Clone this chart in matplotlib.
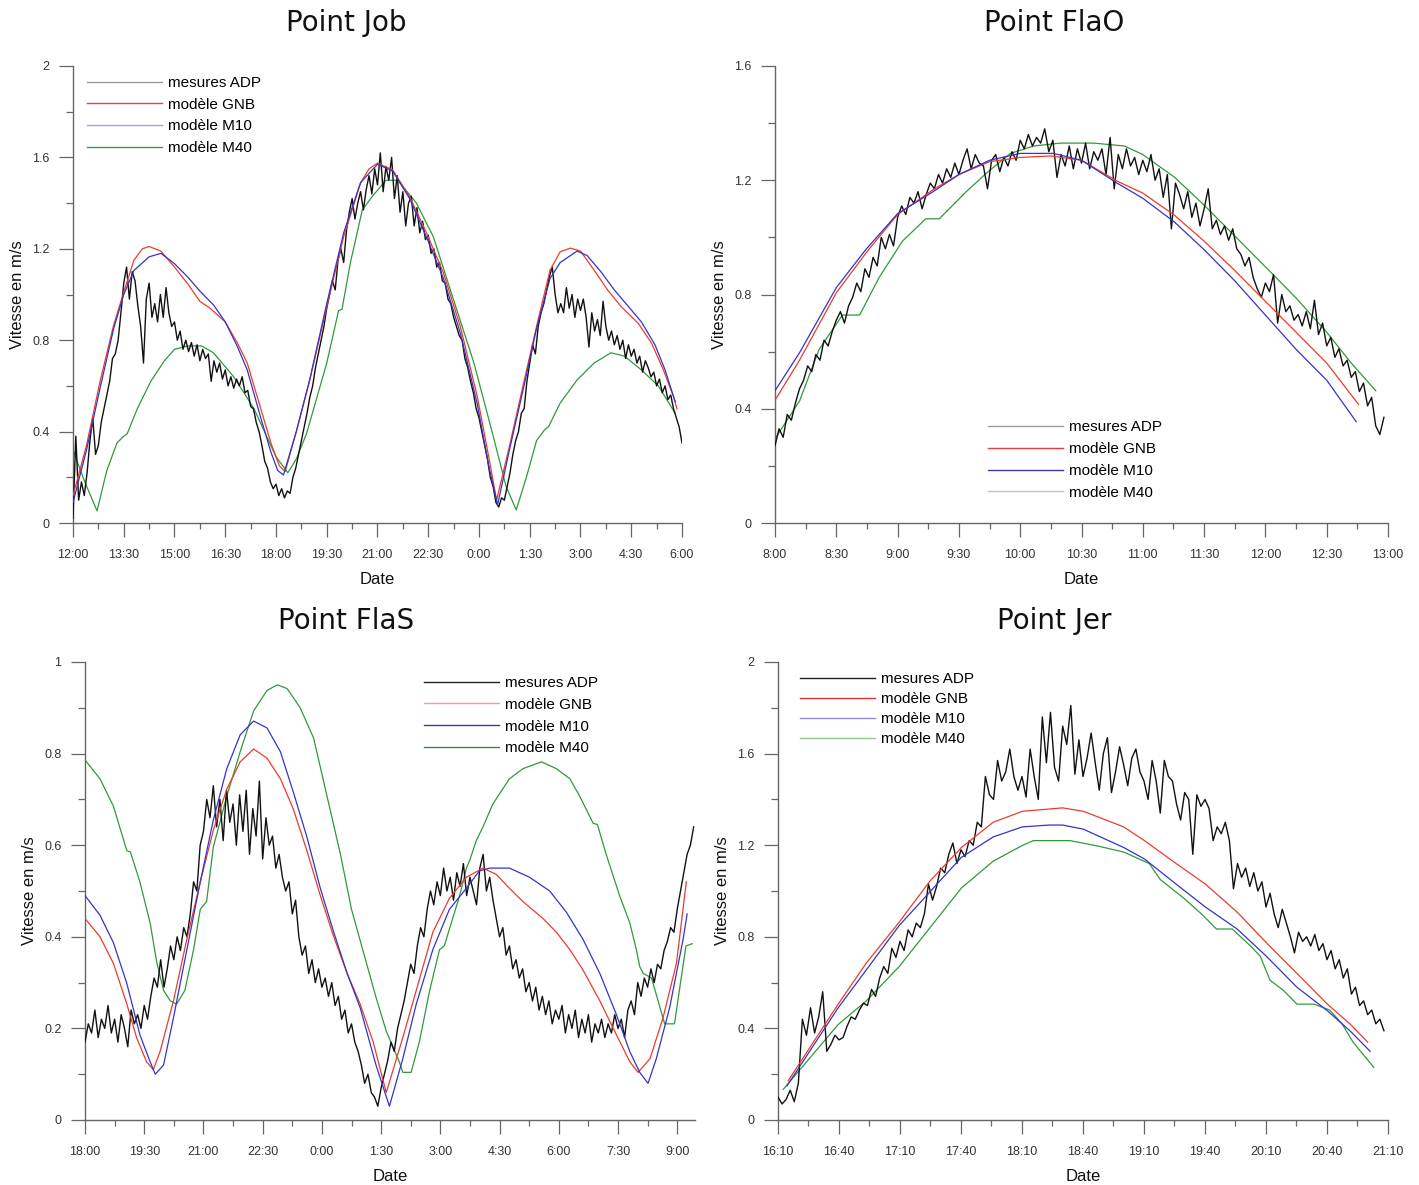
import numpy as np
import matplotlib
matplotlib.use("Agg")
import matplotlib.pyplot as plt
from matplotlib.ticker import FixedLocator, FuncFormatter
from matplotlib.lines import Line2D

plt.rcParams['font.family'] = ['Liberation Sans', 'DejaVu Sans']

LABELS = ['mesures ADP', 'modèle GNB', 'modèle M10', 'modèle M40']

# ---------------- Point Job (hours, 12:00 -> 6:00 next day) ----------------
job_adp_start, job_adp_step = 12.0, 5 / 60
job_adp = [
    0.02, 0.38, 0.10, 0.18, 0.12, 0.22, 0.36, 0.46, 0.30, 0.34, 0.44, 0.50,
    0.56, 0.62, 0.72, 0.74, 0.80, 0.92, 1.05, 1.12, 0.98, 1.10, 1.06, 0.95,
    0.86, 0.70, 0.98, 1.05, 0.90, 0.96, 0.88, 1.00, 0.90, 1.03, 0.92, 0.86,
    0.88, 0.80, 0.84, 0.76, 0.80, 0.75, 0.79, 0.73, 0.78, 0.71, 0.76, 0.72,
    0.74, 0.62, 0.71, 0.66, 0.70, 0.63, 0.67, 0.60, 0.64, 0.59, 0.63, 0.60,
    0.64, 0.57, 0.58, 0.51, 0.50, 0.44, 0.40, 0.34, 0.27, 0.24, 0.18, 0.15,
    0.17, 0.12, 0.15, 0.11, 0.14, 0.13, 0.20, 0.24, 0.30, 0.36, 0.42, 0.48,
    0.55, 0.60, 0.68, 0.74, 0.80, 0.86, 0.94, 1.00, 1.06, 1.02, 1.15, 1.20,
    1.14, 1.28, 1.36, 1.42, 1.33, 1.40, 1.45, 1.37, 1.46, 1.52, 1.44, 1.55,
    1.48, 1.62, 1.45, 1.56, 1.50, 1.60, 1.42, 1.52, 1.36, 1.45, 1.30, 1.40,
    1.43, 1.30, 1.38, 1.27, 1.32, 1.24, 1.26, 1.18, 1.20, 1.12, 1.14, 1.06,
    1.05, 0.98, 0.96, 0.90, 0.86, 0.82, 0.80, 0.72, 0.68, 0.62, 0.57, 0.50,
    0.46, 0.40, 0.34, 0.28, 0.20, 0.16, 0.09, 0.07, 0.11, 0.10, 0.16, 0.22,
    0.30, 0.36, 0.40, 0.48, 0.50, 0.62, 0.70, 0.78, 0.74, 0.86, 0.92, 0.96,
    1.02, 1.08, 1.12, 1.00, 0.92, 0.96, 0.92, 1.03, 0.94, 1.00, 0.90, 0.98,
    0.93, 0.98, 0.90, 0.77, 0.92, 0.84, 0.89, 0.82, 0.97, 0.86, 0.80, 0.84,
    0.78, 0.82, 0.76, 0.80, 0.72, 0.78, 0.73, 0.76, 0.70, 0.73, 0.66, 0.71,
    0.68, 0.64, 0.66, 0.60, 0.63, 0.57, 0.60, 0.54, 0.56, 0.50, 0.46, 0.42,
    0.35,
]
job_gnb_t = [12.0, 12.4, 12.8, 13.2, 13.5, 13.8, 14.05, 14.25, 14.6, 15.0,
             15.4, 15.75, 16.05, 16.5, 16.85, 17.15, 17.55, 17.85, 18.1, 18.27,
             18.6, 19.0, 19.5, 20.0, 20.5, 20.75, 21.0, 21.45, 21.95, 22.45,
             22.95, 23.45, 23.95, 24.3, 24.52, 24.9, 25.3, 25.7, 26.1, 26.4,
             26.7, 27.0, 27.4, 27.8, 28.2, 28.7, 29.1, 29.45, 29.75, 29.85]
job_gnb = [0.12, 0.34, 0.62, 0.865, 1.01, 1.15, 1.20, 1.21, 1.19, 1.12,
           1.045, 0.97, 0.94, 0.88, 0.79, 0.70, 0.50, 0.35, 0.25, 0.225,
           0.40, 0.626, 0.947, 1.253, 1.488, 1.55, 1.575, 1.545, 1.428, 1.269,
           1.094, 0.859, 0.553, 0.28, 0.10, 0.336, 0.60, 0.86, 1.107, 1.187,
           1.203, 1.19, 1.107, 1.02, 0.947, 0.875, 0.787, 0.67, 0.553, 0.50]
job_m10_t = [12.0, 12.4, 12.8, 13.2, 13.5, 13.8, 14.25, 14.6, 15.0, 15.4,
             15.75, 16.15, 16.5, 16.85, 17.15, 17.55, 17.85, 18.05, 18.22, 18.6,
             19.0, 19.5, 20.0, 20.5, 21.0, 21.45, 21.95, 22.45, 22.95, 23.45,
             23.95, 24.3, 24.55, 24.9, 25.3, 25.7, 26.1, 26.4, 26.9, 27.2,
             27.6, 28.0, 28.4, 28.8, 29.2, 29.5, 29.8]
job_m10 = [0.09, 0.32, 0.59, 0.85, 1.00, 1.105, 1.165, 1.18, 1.135, 1.075,
           1.015, 0.955, 0.88, 0.775, 0.67, 0.46, 0.31, 0.23, 0.21, 0.40,
           0.63, 0.96, 1.27, 1.49, 1.57, 1.54, 1.42, 1.25, 1.07, 0.83,
           0.52, 0.24, 0.08, 0.32, 0.58, 0.85, 1.07, 1.14, 1.19, 1.17,
           1.10, 1.02, 0.95, 0.88, 0.78, 0.67, 0.53]
job_m40_t = [12.0, 12.32, 12.71, 13.0, 13.3, 13.5, 13.6, 13.9, 14.3, 14.7,
             15.0, 15.4, 15.8, 16.15, 16.75, 17.35, 18.0, 18.35, 18.6, 18.9,
             19.5, 19.85, 19.95, 20.2, 20.55, 20.85, 21.25, 21.6, 22.15, 22.65,
             23.25, 23.85, 24.35, 24.8, 25.1, 25.4, 25.7, 25.95, 26.05, 26.4,
             26.9, 27.4, 27.9, 28.3, 28.8, 29.3, 29.8]
job_m40 = [0.32, 0.19, 0.053, 0.23, 0.35, 0.38, 0.39, 0.50, 0.62, 0.71,
           0.76, 0.775, 0.775, 0.745, 0.64, 0.50, 0.29, 0.22, 0.28, 0.39,
           0.70, 0.93, 0.935, 1.14, 1.37, 1.43, 1.50, 1.50, 1.40, 1.253,
           0.976, 0.70, 0.42, 0.16, 0.057, 0.20, 0.36, 0.41, 0.42, 0.525,
           0.626, 0.70, 0.745, 0.73, 0.67, 0.60, 0.48]

# ---------------- Point FlaO (8:00 -> 13:00) ----------------
flao_adp_start, flao_adp_step = 8.0, 2 / 60
flao_adp = [
    0.27, 0.33, 0.30, 0.38, 0.36, 0.42, 0.47, 0.50, 0.55, 0.53, 0.59, 0.57, 0.64, 0.62, 0.67,
    0.71, 0.74, 0.70, 0.76, 0.79, 0.84, 0.81, 0.89, 0.86, 0.93, 0.90, 1.00, 0.96, 1.01, 0.97,
    1.07, 1.11, 1.08, 1.14, 1.12, 1.16, 1.10, 1.15, 1.19, 1.17, 1.22, 1.19, 1.24, 1.21, 1.26,
    1.22, 1.27, 1.31, 1.24, 1.29, 1.26, 1.25, 1.17, 1.27, 1.29, 1.23, 1.28, 1.25, 1.30, 1.27,
    1.34, 1.31, 1.36, 1.32, 1.35, 1.33, 1.38, 1.30, 1.34, 1.21, 1.29, 1.25, 1.32, 1.24, 1.31,
    1.26, 1.33, 1.24, 1.30, 1.27, 1.31, 1.22, 1.35, 1.17, 1.29, 1.24, 1.31, 1.25, 1.28, 1.22,
    1.27, 1.23, 1.29, 1.20, 1.24, 1.14, 1.22, 1.03, 1.19, 1.15, 1.10, 1.16, 1.07, 1.12, 1.04,
    1.10, 1.17, 1.03, 1.06, 1.01, 1.04, 0.99, 1.03, 0.96, 0.94, 0.90, 0.93, 0.86, 0.82, 0.79,
    0.84, 0.81, 0.87, 0.70, 0.80, 0.74, 0.76, 0.71, 0.73, 0.69, 0.74, 0.68, 0.78, 0.66, 0.70,
    0.62, 0.65, 0.58, 0.61, 0.55, 0.57, 0.51, 0.53, 0.46, 0.49, 0.41, 0.44, 0.34, 0.31, 0.37,
]
flao_gnb_t = [8.0, 8.2, 8.5, 8.75, 9.0, 9.3, 9.5, 9.75, 10.0, 10.25,
              10.5, 10.79, 11.0, 11.26, 11.5, 11.75, 12.0, 12.25, 12.5, 12.76]
flao_gnb = [0.43, 0.57, 0.806, 0.95, 1.08, 1.17, 1.22, 1.265, 1.28, 1.285,
            1.27, 1.197, 1.155, 1.077, 0.987, 0.884, 0.776, 0.668, 0.56, 0.415]
flao_m10_t = [8.0, 8.2, 8.5, 8.74, 9.0, 9.29, 9.5, 9.75, 10.0, 10.27,
              10.5, 10.79, 11.0, 11.26, 11.5, 11.75, 12.0, 12.25, 12.5, 12.74]
flao_m10 = [0.463, 0.596, 0.824, 0.957, 1.083, 1.16, 1.22, 1.27, 1.294, 1.294,
            1.27, 1.19, 1.137, 1.053, 0.957, 0.848, 0.728, 0.608, 0.50, 0.355]
flao_m40_t = [8.0, 8.2, 8.36, 8.55, 8.69, 8.85, 9.04, 9.23, 9.34, 9.56,
              9.73, 9.92, 10.11, 10.33, 10.6, 10.85, 11.0, 11.26, 11.5, 11.75,
              12.0, 12.25, 12.5, 12.7, 12.9]
flao_m40 = [0.295, 0.427, 0.608, 0.728, 0.728, 0.86, 0.987, 1.065, 1.065, 1.16,
            1.227, 1.294, 1.32, 1.33, 1.33, 1.32, 1.29, 1.21, 1.113, 1.005,
            0.897, 0.788, 0.668, 0.56, 0.463]

# ---------------- Point FlaS (18:00 -> 9:25 next day) ----------------
flas_adp_start, flas_adp_step = 18.0, 5 / 60
flas_adp = [
    0.17, 0.21, 0.19, 0.24, 0.18, 0.22, 0.20, 0.25, 0.19, 0.22, 0.17, 0.23,
    0.20, 0.16, 0.24, 0.21, 0.23, 0.20, 0.25, 0.22, 0.27, 0.31, 0.29, 0.35,
    0.29, 0.33, 0.38, 0.35, 0.40, 0.37, 0.42, 0.40, 0.45, 0.52, 0.50, 0.60,
    0.63, 0.70, 0.66, 0.73, 0.64, 0.70, 0.61, 0.72, 0.65, 0.69, 0.60, 0.71,
    0.63, 0.72, 0.58, 0.68, 0.62, 0.74, 0.57, 0.66, 0.60, 0.62, 0.55, 0.58,
    0.53, 0.50, 0.52, 0.45, 0.48, 0.40, 0.36, 0.38, 0.32, 0.35, 0.30, 0.33,
    0.29, 0.31, 0.27, 0.30, 0.25, 0.27, 0.22, 0.24, 0.19, 0.21, 0.17, 0.15,
    0.12, 0.08, 0.10, 0.06, 0.05, 0.03, 0.07, 0.10, 0.13, 0.17, 0.15, 0.20,
    0.23, 0.26, 0.30, 0.34, 0.32, 0.38, 0.42, 0.40, 0.46, 0.50, 0.47, 0.52,
    0.49, 0.55, 0.50, 0.53, 0.48, 0.54, 0.51, 0.56, 0.49, 0.53, 0.50, 0.47,
    0.55, 0.58, 0.50, 0.53, 0.48, 0.44, 0.40, 0.42, 0.36, 0.38, 0.33, 0.35,
    0.31, 0.33, 0.28, 0.30, 0.26, 0.29, 0.24, 0.27, 0.23, 0.26, 0.21, 0.24,
    0.22, 0.25, 0.19, 0.23, 0.20, 0.24, 0.18, 0.22, 0.19, 0.23, 0.17, 0.21,
    0.19, 0.22, 0.18, 0.21, 0.19, 0.23, 0.20, 0.22, 0.18, 0.24, 0.26, 0.23,
    0.30, 0.27, 0.31, 0.29, 0.33, 0.30, 0.34, 0.33, 0.37, 0.39, 0.42, 0.41,
    0.46, 0.50, 0.54, 0.58, 0.60, 0.64,
]
flas_gnb_t = [18.0, 18.38, 18.72, 19.06, 19.31, 19.56, 19.73, 19.9, 20.24, 20.58,
              20.92, 21.25, 21.59, 21.93, 22.27, 22.61, 22.95, 23.28, 23.62, 23.96,
              24.3, 24.64, 24.97, 25.3, 25.63, 26.05, 26.39, 26.81, 27.23, 27.66,
              28.08, 28.42, 28.75, 29.09, 29.6, 29.94, 30.28, 30.61, 31.04, 31.46,
              31.8, 32.01, 32.31, 32.64, 32.98, 33.23]
flas_gnb = [0.44, 0.40, 0.342, 0.253, 0.179, 0.127, 0.11, 0.149, 0.26, 0.395,
            0.52, 0.633, 0.722, 0.782, 0.81, 0.79, 0.745, 0.678, 0.588, 0.49,
            0.40, 0.32, 0.253, 0.17, 0.06, 0.18, 0.283, 0.41, 0.484, 0.53,
            0.55, 0.536, 0.506, 0.477, 0.44, 0.41, 0.372, 0.328, 0.26, 0.186,
            0.127, 0.104, 0.134, 0.223, 0.342, 0.52]
flas_m10_t = [18.0, 18.38, 18.72, 19.06, 19.39, 19.65, 19.78, 19.99, 20.24, 20.58,
              20.92, 21.25, 21.59, 21.93, 22.27, 22.61, 22.95, 23.28, 23.62, 23.96,
              24.3, 24.64, 24.97, 25.37, 25.71, 26.05, 26.39, 26.81, 27.23, 27.66,
              27.99, 28.25, 28.75, 29.26, 29.77, 30.19, 30.61, 31.04, 31.46, 31.8,
              32.05, 32.26, 32.47, 32.81, 33.15, 33.25]
flas_m10 = [0.49, 0.447, 0.387, 0.298, 0.186, 0.127, 0.10, 0.12, 0.223, 0.372,
            0.52, 0.655, 0.767, 0.841, 0.871, 0.856, 0.804, 0.715, 0.618, 0.506,
            0.41, 0.32, 0.245, 0.12, 0.03, 0.134, 0.253, 0.372, 0.46, 0.506,
            0.544, 0.55, 0.55, 0.53, 0.50, 0.454, 0.395, 0.32, 0.23, 0.149,
            0.104, 0.08, 0.134, 0.246, 0.395, 0.45]
flas_m40_t = [18.0, 18.38, 18.72, 19.06, 19.15, 19.39, 19.65, 19.82, 19.99, 20.16,
              20.32, 20.53, 20.75, 20.92, 21.08, 21.25, 21.59, 21.93, 22.27, 22.61,
              22.87, 23.12, 23.45, 23.79, 24.13, 24.47, 24.75, 25.25, 25.37, 25.63,
              25.96, 26.05, 26.26, 26.47, 26.73, 26.98, 27.1, 27.23, 27.49, 27.66,
              27.74, 27.91, 28.08, 28.33, 28.75, 29.09, 29.56, 29.94, 30.28, 30.53,
              30.87, 30.98, 31.2, 31.54, 31.8, 31.97, 32.05, 32.14, 32.35, 32.68,
              32.93, 33.22, 33.38]
flas_m40 = [0.786, 0.745, 0.685, 0.588, 0.585, 0.52, 0.43, 0.343, 0.283, 0.26,
            0.253, 0.283, 0.372, 0.46, 0.477, 0.596, 0.707, 0.804, 0.893, 0.938,
            0.95, 0.942, 0.90, 0.834, 0.707, 0.58, 0.46, 0.305, 0.268, 0.194,
            0.127, 0.104, 0.104, 0.171, 0.283, 0.372, 0.38, 0.417, 0.49, 0.55,
            0.566, 0.61, 0.64, 0.69, 0.745, 0.767, 0.782, 0.767, 0.745, 0.707,
            0.648, 0.645, 0.58, 0.49, 0.43, 0.37, 0.335, 0.32, 0.31, 0.21,
            0.21, 0.38, 0.385]

# ---------------- Point Jer (16:10 -> 21:10) ----------------
jer_adp_start, jer_adp_step = 16 + 10 / 60, 2 / 60
jer_adp = [
    0.10, 0.07, 0.09, 0.13, 0.08, 0.16, 0.44, 0.37, 0.49, 0.38, 0.45, 0.56, 0.30, 0.33, 0.37,
    0.35, 0.36, 0.41, 0.45, 0.44, 0.48, 0.51, 0.50, 0.57, 0.54, 0.62, 0.67, 0.64, 0.75, 0.71,
    0.78, 0.74, 0.83, 0.80, 0.86, 0.84, 0.90, 1.03, 0.96, 1.02, 1.10, 1.08, 1.16, 1.21, 1.12,
    1.18, 1.15, 1.22, 1.20, 1.30, 1.28, 1.50, 1.42, 1.40, 1.57, 1.48, 1.52, 1.62, 1.50, 1.44,
    1.50, 1.41, 1.62, 1.50, 1.40, 1.76, 1.56, 1.78, 1.54, 1.48, 1.72, 1.64, 1.81, 1.51, 1.66,
    1.50, 1.58, 1.69, 1.56, 1.44, 1.60, 1.67, 1.43, 1.52, 1.63, 1.55, 1.46, 1.58, 1.62, 1.52,
    1.48, 1.40, 1.57, 1.48, 1.34, 1.57, 1.50, 1.48, 1.38, 1.31, 1.43, 1.40, 1.16, 1.42, 1.37,
    1.40, 1.36, 1.22, 1.28, 1.25, 1.30, 1.22, 1.01, 1.12, 1.06, 1.10, 1.02, 1.08, 1.00, 1.04,
    0.93, 0.99, 0.90, 0.84, 0.92, 0.86, 0.80, 0.73, 0.82, 0.78, 0.80, 0.76, 0.81, 0.74, 0.77,
    0.70, 0.74, 0.66, 0.70, 0.62, 0.66, 0.55, 0.58, 0.50, 0.52, 0.46, 0.48, 0.42, 0.44, 0.39,
]
jer_gnb_t = [16.25, 16.35, 16.66, 16.89, 17.16, 17.41, 17.67, 17.93, 18.17, 18.5,
             18.67, 19.0, 19.17, 19.43, 19.67, 19.93, 20.17, 20.42, 20.67, 20.86, 21.0]
jer_gnb = [0.171, 0.253, 0.506, 0.685, 0.864, 1.042, 1.19, 1.30, 1.348, 1.363,
           1.348, 1.28, 1.22, 1.12, 1.03, 0.908, 0.774, 0.64, 0.506, 0.417, 0.34]
jer_m10_t = [16.24, 16.66, 17.16, 17.67, 17.93, 18.17, 18.39, 18.5, 18.67, 19.0,
             19.17, 19.43, 19.67, 19.93, 20.17, 20.42, 20.67, 20.86, 21.02]
jer_m10 = [0.149, 0.49, 0.849, 1.147, 1.236, 1.28, 1.288, 1.288, 1.27, 1.19,
           1.14, 1.03, 0.93, 0.834, 0.715, 0.58, 0.477, 0.387, 0.30]
jer_m40_t = [16.21, 16.66, 16.89, 17.16, 17.67, 17.93, 18.17, 18.26, 18.56, 18.8,
             19.0, 19.21, 19.3, 19.49, 19.65, 19.76, 19.89, 20.04, 20.12, 20.2,
             20.31, 20.42, 20.56, 20.69, 20.79, 20.88, 21.05]
jer_m40 = [0.134, 0.417, 0.52, 0.67, 1.013, 1.13, 1.199, 1.22, 1.22, 1.195,
           1.17, 1.12, 1.05, 0.97, 0.894, 0.834, 0.834, 0.76, 0.715, 0.61,
           0.566, 0.506, 0.506, 0.48, 0.42, 0.34, 0.23]

BLACK = '#111111'
RED = '#ec3b2c'
BLUE = '#3434c8'
GREEN = '#2f9a3c'
AXIS = '#666666'


def hhmm(x, pos):
    m = int(round(x * 60)) % (24 * 60)
    return f"{m // 60}:{m % 60:02d}"


def num(y, pos):
    return f"{round(y, 2):g}"


def draw(ax, adp_start, adp_step, adp, gnb_t, gnb, m10_t, m10, m40_t, m40,
         xlim, xstep, ymax, ystep, leg_px, leg_colors, leg_space):
    t = adp_start + adp_step * np.arange(len(adp))
    ax.plot(m40_t, m40, color=GREEN, lw=0.9, zorder=2)
    ax.plot(t, adp, color=BLACK, lw=1.0, zorder=3)
    ax.plot(gnb_t, gnb, color=RED, lw=0.9, zorder=4)
    ax.plot(m10_t, m10, color=BLUE, lw=0.9, zorder=4)

    ax.set_xlim(*xlim)
    ax.set_ylim(0, ymax)
    ax.xaxis.set_major_locator(FixedLocator(np.arange(xlim[0], xlim[1] + 1e-6, xstep)))
    ax.xaxis.set_minor_locator(FixedLocator(np.arange(xlim[0], xlim[1] + 1e-6, xstep / 2)))
    ax.yaxis.set_major_locator(FixedLocator(np.arange(0, ymax + 1e-6, ystep)))
    ax.yaxis.set_minor_locator(FixedLocator(np.arange(0, ymax + 1e-6, ystep / 2)))
    ax.xaxis.set_major_formatter(FuncFormatter(hhmm))
    ax.yaxis.set_major_formatter(FuncFormatter(num))

    for s in ['top', 'right']:
        ax.spines[s].set_visible(False)
    for s in ['left', 'bottom']:
        ax.spines[s].set_color(AXIS)
        ax.spines[s].set_linewidth(1.0)
    ax.tick_params(which='both', direction='out', color=AXIS, width=0.9,
                   labelsize=9, labelcolor='#333333')
    ax.tick_params(which='major', length=10)
    ax.tick_params(axis='y', which='minor', length=5)
    ax.tick_params(axis='x', which='minor', length=4)
    ax.tick_params(axis='x', pad=8.5)
    ax.tick_params(axis='y', pad=7)

    ax.set_xlabel('Date', fontsize=12, labelpad=8, color='#111111')
    ax.set_ylabel('Vitesse en m/s', fontsize=12, labelpad=5, color='#111111')

    handles = [Line2D([], [], color=c, lw=1.0) for c in leg_colors]
    ax.legend(handles, LABELS, loc='upper left',
              bbox_to_anchor=(leg_px[0] / W, 1 - leg_px[1] / H),
              bbox_transform=fig.transFigure, frameon=False, fontsize=11,
              handlelength=4.9, handletextpad=0.4, labelspacing=leg_space,
              borderpad=0, borderaxespad=0)


W, H = 1419, 1185
fig = plt.figure(figsize=(W / 100, H / 100), dpi=100)


def box(left, right, top, bottom):
    return [left / W, 1 - bottom / H, (right - left) / W, (bottom - top) / H]


ax1 = fig.add_axes(box(73, 682, 66, 523))
ax2 = fig.add_axes(box(775, 1388, 66, 523))
ax3 = fig.add_axes(box(85, 695, 662, 1120))
ax4 = fig.add_axes(box(778, 1388, 662, 1120))

draw(ax1, job_adp_start, job_adp_step, job_adp, job_gnb_t, job_gnb,
     job_m10_t, job_m10, job_m40_t, job_m40, (12.0, 30.0), 1.5, 2.0, 0.4,
     (87, 76), ['#9a9a9a', '#e0405a', '#a4a4e0', '#3a9a4a'], 0.5)
draw(ax2, flao_adp_start, flao_adp_step, flao_adp, flao_gnb_t, flao_gnb,
     flao_m10_t, flao_m10, flao_m40_t, flao_m40, (8.0, 13.0), 0.5, 1.6, 0.4,
     (988, 420), ['#a0a0a0', '#e04040', '#3a3ab0', '#b4ccb4'], 0.52)
draw(ax3, flas_adp_start, flas_adp_step, flas_adp, flas_gnb_t, flas_gnb,
     flas_m10_t, flas_m10, flas_m40_t, flas_m40, (18.0, 33.45), 1.5, 1.0, 0.2,
     (424, 676), ['#202020', '#f0a090', '#3a3ab0', '#3a8a3a'], 0.51)
draw(ax4, jer_adp_start, jer_adp_step, jer_adp, jer_gnb_t, jer_gnb,
     jer_m10_t, jer_m10, jer_m40_t, jer_m40, (16 + 10 / 60, 21 + 10 / 60), 0.5, 2.0, 0.4,
     (800, 672), ['#202020', '#e03030', '#9a8ad0', '#90c890'], 0.4)

for txt, x, y in [('Point Job', 346, 23), ('Point FlaO', 1054, 23),
                  ('Point FlaS', 346, 621), ('Point Jer', 1054, 621)]:
    fig.text(x / W, 1 - y / H, txt, ha='center', va='center', fontsize=20,
             family='DejaVu Sans', color='#111111')

fig.savefig('out.png', dpi=100)
